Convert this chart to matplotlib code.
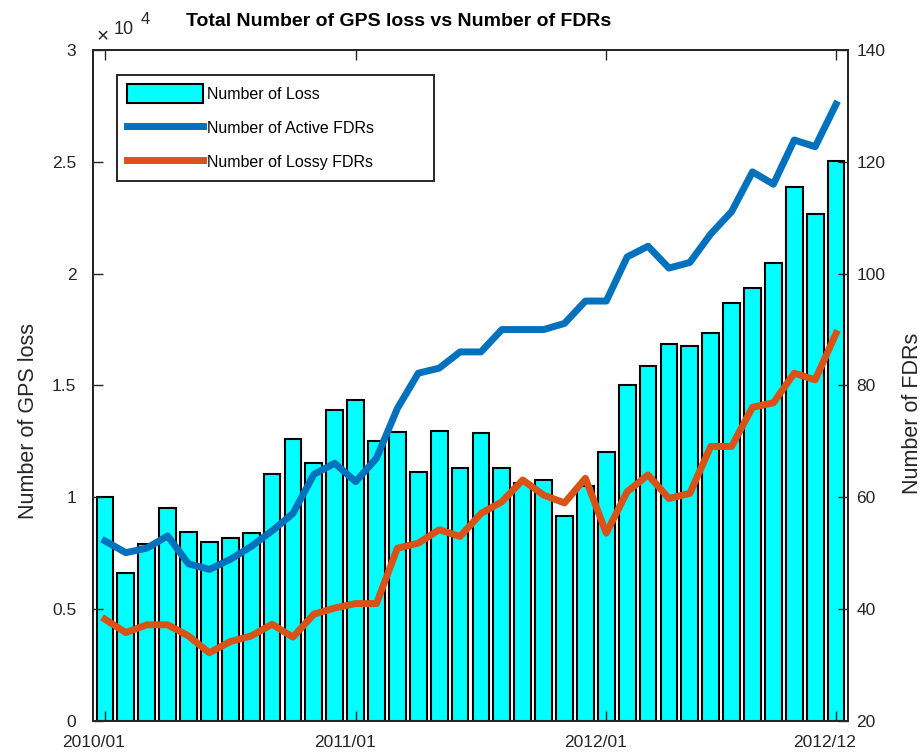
import numpy as np
import matplotlib
matplotlib.use('Agg')
import matplotlib.pyplot as plt
from matplotlib.ticker import FuncFormatter
from matplotlib.patches import Patch
from matplotlib.lines import Line2D
from matplotlib.transforms import ScaledTranslation

plt.rcParams['font.family'] = ['Liberation Sans', 'DejaVu Sans']

# monthly data 2010/01 .. 2012/12
months = ['2010/01', '2010/02', '2010/03', '2010/04', '2010/05', '2010/06',
          '2010/07', '2010/08', '2010/09', '2010/10', '2010/11', '2010/12',
          '2011/01', '2011/02', '2011/03', '2011/04', '2011/05', '2011/06',
          '2011/07', '2011/08', '2011/09', '2011/10', '2011/11', '2011/12',
          '2012/01', '2012/02', '2012/03', '2012/04', '2012/05', '2012/06',
          '2012/07', '2012/08', '2012/09', '2012/10', '2012/11', '2012/12']
loss = [10030, 6630, 7900, 9540, 8440, 8000, 8180, 8420, 11030, 12620, 11550, 13890,
        14340, 12530, 12940, 11150, 12970, 11300, 12860, 11330, 10630, 10770, 9180, 10520,
        12040, 15020, 15890, 16840, 16780, 17330, 18690, 19370, 20490, 23870, 22670, 25020]
active_fdrs = [52.2, 50.1, 50.9, 53.1, 48.1, 47.1, 48.9, 51.2, 54.0, 57.1, 64.1, 66.1,
               62.8, 67.0, 75.9, 82.2, 83.1, 86.0, 86.0, 90.0, 90.0, 90.0, 91.1, 95.1,
               95.1, 103.0, 104.9, 101.0, 102.0, 107.1, 111.1, 118.2, 116.0, 123.9, 122.7, 130.3]
lossy_fdrs = [38.2, 35.8, 37.2, 37.2, 35.2, 32.2, 34.2, 35.2, 37.3, 35.0, 39.1, 40.2,
              41.0, 41.0, 50.9, 51.8, 54.2, 53.0, 57.1, 59.2, 63.1, 60.4, 59.0, 63.4,
              53.6, 61.0, 64.0, 59.8, 60.7, 69.1, 69.1, 76.1, 76.9, 82.2, 81.0, 89.3]
xtick_idx = [0, 12, 24, 35]

blue = '#0072BD'
orange = '#D95319'
dark = '#262626'

fig = plt.figure(figsize=(9.22, 7.54), dpi=100)
ax = fig.add_axes([0.1009, 0.0438, 0.8188, 0.8899])
x = np.arange(len(months))
ax.bar(x, loss, width=0.8, color='#00FFFF', edgecolor='black', linewidth=1.5)
ax.set_xlim(-0.57, len(months) - 0.43)
ax.set_ylim(0, 30000)
ax.set_yticks(np.arange(0, 30001, 5000))
ax.yaxis.set_major_formatter(FuncFormatter(lambda v, p: f'{v/1e4:g}'))
ax.set_xticks(xtick_idx)
ax.set_xticklabels([months[i] for i in xtick_idx])
ax.tick_params(direction='in', length=7, width=1, labelsize=12.5, colors=dark,
               top=True, right=False)
ax.tick_params(axis='y', pad=12)
ax.tick_params(axis='x', pad=10)
# labels sit a bit left of their ticks in the original
for lbl in ax.get_xticklabels():
    lbl.set_transform(lbl.get_transform() + ScaledTranslation(-0.11, 0, fig.dpi_scale_trans))

ax2 = ax.twinx()
ax2.plot(x, active_fdrs, color=blue, linewidth=5)
ax2.plot(x, lossy_fdrs, color=orange, linewidth=5)
ax2.set_ylim(20, 140)
ax2.set_yticks(np.arange(20, 141, 20))
ax2.tick_params(direction='in', length=7, width=1, labelsize=12.5, colors=dark, pad=6)
for a in (ax, ax2):
    for s in a.spines.values():
        s.set_color(dark)
        s.set_linewidth(1.4)

handles = [Patch(facecolor='#00FFFF', edgecolor='black', linewidth=1.5),
           Line2D([], [], color=blue, linewidth=5),
           Line2D([], [], color=orange, linewidth=5)]
labels = ['Number of Loss', 'Number of Active FDRs', 'Number of Lossy FDRs']
leg = ax2.legend(handles, labels, loc='upper left',
                 bbox_to_anchor=(0.032, 0.963, 0.42, 0.0), mode='expand',
                 fontsize=11.5, frameon=True, fancybox=False, edgecolor=dark,
                 handlelength=4.8, handleheight=1.4, labelspacing=0.98,
                 borderpad=0.6, handletextpad=0.25, borderaxespad=0)
leg.get_frame().set_linewidth(1.4)
leg.get_frame().set_alpha(1)

fig.text(0.1045, 0.951, '\u00d7', fontsize=15, color=dark, ha='left', va='center')
fig.text(0.1235, 0.961, '10', fontsize=13, color=dark, ha='left', va='center')
fig.text(0.152, 0.974, '4', fontsize=12, color=dark, ha='left', va='center')
fig.text(0.432, 0.972, 'Total Number of GPS loss vs Number of FDRs',
         ha='center', va='center', fontsize=14, fontweight='bold')
fig.text(0.031, 0.442, 'Number of GPS loss', rotation=90, ha='center', va='center',
         fontsize=15.5, color=dark)
fig.text(0.9895, 0.452, 'Number of FDRs', rotation=90, ha='center', va='center',
         fontsize=15.5, color=dark)

fig.savefig('out.png', dpi=100)
